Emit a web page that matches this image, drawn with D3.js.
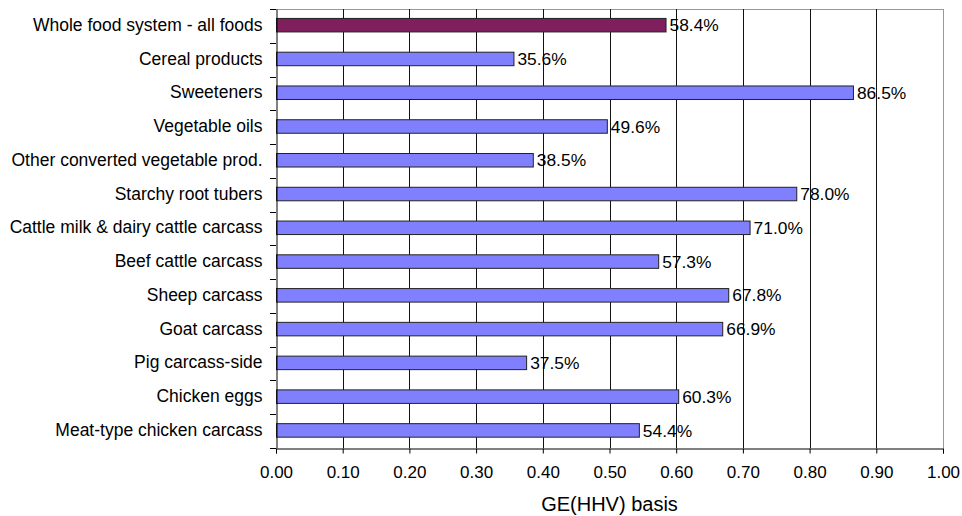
<!DOCTYPE html>
<html>
<head>
<meta charset="utf-8">
<script src="https://cdn.jsdelivr.net/npm/d3@7"></script>
<style>
  body { margin: 0; background: #fff; }
  svg { display: block; font-family: "Liberation Sans", Arial, sans-serif; }
</style>
</head>
<body>
<svg id="chart" width="962" height="516"></svg>
<script>
const categories = [
  "Whole food system - all foods",
  "Cereal products",
  "Sweeteners",
  "Vegetable oils",
  "Other converted vegetable prod.",
  "Starchy root tubers",
  "Cattle milk & dairy cattle carcass",
  "Beef cattle carcass",
  "Sheep carcass",
  "Goat carcass",
  "Pig carcass-side",
  "Chicken eggs",
  "Meat-type chicken carcass"
];
const values = [0.584, 0.356, 0.865, 0.496, 0.385, 0.780, 0.710, 0.573, 0.678, 0.669, 0.375, 0.603, 0.544];
const highlighted = ["Whole food system - all foods"];
const xTicks = [0, 0.1, 0.2, 0.3, 0.4, 0.5, 0.6, 0.7, 0.8, 0.9, 1.0];
const xTitle = "GE(HHV) basis";

const svg = d3.select("#chart");
const pLeft = 276, pRight = 943, pTop = 9, pBottom = 448;

const x = d3.scaleLinear().domain([0, 1]).range([pLeft, pRight]);
const y = d3.scaleBand().domain(categories).range([pTop, pBottom]).padding(0);
const barH = y.bandwidth() * 0.4;

// plot border (top / right)
svg.append("line").attr("x1", pLeft).attr("x2", pRight).attr("y1", pTop + 0.5).attr("y2", pTop + 0.5)
  .attr("stroke", "#999").attr("stroke-width", 1);
svg.append("line").attr("x1", pRight + 0.5).attr("x2", pRight + 0.5).attr("y1", pTop).attr("y2", pBottom)
  .attr("stroke", "#999").attr("stroke-width", 1);

// vertical gridlines
svg.append("g").selectAll("line").data(xTicks.filter(t => t > 0 && t < 1)).join("line")
  .attr("x1", d => Math.round(x(d)) + 0.5).attr("x2", d => Math.round(x(d)) + 0.5)
  .attr("y1", pTop).attr("y2", pBottom)
  .attr("stroke", "#111").attr("stroke-width", 1);

// bars
svg.append("g").selectAll("rect").data(categories).join("rect")
  .attr("x", x(0) + 0.5)
  .attr("y", d => y(d) + y.bandwidth() / 2 - barH / 2 - 0.7)
  .attr("width", (d, i) => x(values[i]) - x(0))
  .attr("height", barH)
  .attr("fill", d => highlighted.includes(d) ? "#7f1f5e" : "#8080ff")
  .attr("stroke", "#222").attr("stroke-width", 1);

// value labels
svg.append("g").selectAll("text").data(categories).join("text")
  .attr("x", (d, i) => x(values[i]) + 4)
  .attr("y", d => y(d) + y.bandwidth() / 2 - 0.7)
  .attr("dy", "0.35em")
  .attr("font-size", 17.4)
  .attr("fill", "#000")
  .text((d, i) => (values[i] * 100).toFixed(1) + "%");

// x axis
const xAxis = d3.axisBottom(x).tickValues(xTicks).tickFormat(d3.format(".2f")).tickSize(5).tickPadding(12);
const gx = svg.append("g").attr("transform", `translate(0,${pBottom + 0.5})`).call(xAxis);
gx.select(".domain").attr("stroke", "#000");
gx.selectAll(".tick line").attr("stroke", "#000");
gx.selectAll(".tick text").attr("font-size", 17).attr("fill", "#000").attr("font-family", "Liberation Sans, Arial, sans-serif");

// y axis
const yAxis = d3.axisLeft(y).tickSize(0).tickPadding(14);
const gy = svg.append("g").attr("transform", `translate(${pLeft + 0.5},0)`).call(yAxis);
gy.select(".domain").attr("stroke", "#000");
gy.selectAll(".tick text").attr("font-size", 17.5).attr("fill", "#000").attr("dy", "0.28em")
  .attr("font-family", "Liberation Sans, Arial, sans-serif");
// boundary ticks between categories
const bounds = categories.map(c => y(c)).concat([pBottom]);
svg.append("g").selectAll("line").data(bounds).join("line")
  .attr("x1", pLeft - 6).attr("x2", pLeft)
  .attr("y1", d => Math.round(d) + 0.5).attr("y2", d => Math.round(d) + 0.5)
  .attr("stroke", "#000");

// axis title
svg.append("text")
  .attr("x", (pLeft + pRight) / 2).attr("y", 511)
  .attr("text-anchor", "middle")
  .attr("font-size", 20)
  .attr("fill", "#000")
  .text(xTitle);
</script>
</body>
</html>
